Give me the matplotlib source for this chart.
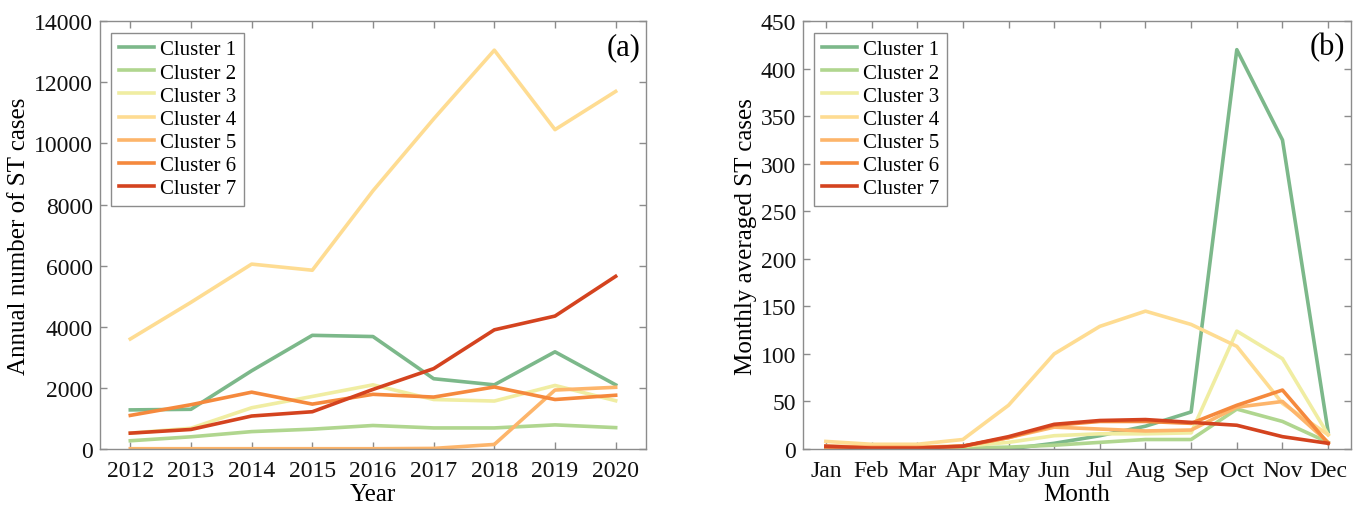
import matplotlib
matplotlib.use('Agg')
import matplotlib.pyplot as plt

plt.rcParams['font.family'] = ['Liberation Serif', 'DejaVu Serif']

years = [2012, 2013, 2014, 2015, 2016, 2017, 2018, 2019, 2020]
months = ['Jan', 'Feb', 'Mar', 'Apr', 'May', 'Jun', 'Jul', 'Aug', 'Sep', 'Oct', 'Nov', 'Dec']
labels = ['Cluster 1', 'Cluster 2', 'Cluster 3', 'Cluster 4', 'Cluster 5', 'Cluster 6', 'Cluster 7']
colors = ['#7cb88a', '#b0d68f', '#f0eda2', '#fedc92', '#fdb56b', '#f5893d', '#d4431f']

# annual number of ST cases per cluster
annual_c1 = [1280, 1300, 2560, 3720, 3680, 2300, 2100, 3180, 2100]
annual_c2 = [270, 400, 570, 650, 770, 690, 690, 790, 700]
annual_c3 = [520, 680, 1350, 1720, 2100, 1620, 1570, 2080, 1580]
annual_c4 = [3600, 4800, 6050, 5850, 8450, 10800, 13050, 10450, 11700]
annual_c5 = [10, 10, 10, 10, 10, 20, 150, 1930, 2020]
annual_c6 = [1100, 1450, 1860, 1470, 1790, 1700, 2030, 1620, 1760]
annual_c7 = [520, 640, 1080, 1220, 1950, 2630, 3900, 4350, 5650]

# monthly averaged ST cases per cluster
monthly_c1 = [1, 0.5, 0.5, 1, 0, 6, 14, 24, 39, 420, 325, 18]
monthly_c2 = [1, 0.5, 0.5, 1, 2, 4, 7, 10, 10, 42, 29, 7]
monthly_c3 = [3, 2, 2, 3, 7, 14, 16, 16, 17, 124, 95, 15]
monthly_c4 = [8, 5, 5, 10, 46, 100, 129, 145, 131, 108, 48, 15]
monthly_c5 = [3, 2, 2, 3, 12, 23, 21, 19, 20, 44, 50, 7]
monthly_c6 = [2, 1, 1, 3, 12, 25, 29, 29, 27, 46, 62, 6]
monthly_c7 = [3, 1, 1, 3, 13, 26, 30, 31, 28, 25, 13, 6]

annual = [annual_c1, annual_c2, annual_c3, annual_c4, annual_c5, annual_c6, annual_c7]
monthly = [monthly_c1, monthly_c2, monthly_c3, monthly_c4, monthly_c5, monthly_c6, monthly_c7]

fig = plt.figure(figsize=(13.62, 5.10), dpi=100)
ax1 = fig.add_axes([0.0734, 0.1176, 0.4009, 0.839])
ax2 = fig.add_axes([0.5896, 0.1176, 0.4023, 0.839])

month_x = list(range(1, 13))
for i in range(7):
    ax1.plot(years, annual[i], color=colors[i], lw=2.6, label=labels[i])
    ax2.plot(month_x, monthly[i], color=colors[i], lw=2.6, label=labels[i])


def style(ax, tag):
    for s in ax.spines.values():
        s.set_color('#8c8c8c')
        s.set_linewidth(1.0)
    ax.tick_params(direction='in', top=True, right=True, length=5, width=1.0,
                   color='#8c8c8c', labelsize=17, labelcolor='#111111')
    ax.tick_params(axis='x', pad=8)
    ax.tick_params(axis='y', pad=5)
    leg = ax.legend(loc='upper left', fontsize=15, handlelength=1.7, handletextpad=0.3,
                    labelspacing=0.17, borderpad=0.35, borderaxespad=0.55,
                    fancybox=False, framealpha=1)
    leg.get_frame().set_edgecolor('#8c8c8c')
    leg.get_frame().set_linewidth(1.0)
    ax.text(0.99, 0.94, tag, transform=ax.transAxes, ha='right', va='center', fontsize=22)


ax1.set_xlim(2011.5, 2020.5)
ax1.set_ylim(0, 14000)
ax1.set_xticks(years)
ax1.set_yticks(range(0, 14001, 2000))
ax1.set_xlabel('Year', fontsize=18, labelpad=1)
ax1.set_ylabel('Annual number of ST cases', fontsize=18, labelpad=3)
style(ax1, '(a)')

ax2.set_xlim(0.5, 12.5)
ax2.set_ylim(0, 450)
ax2.set_xticks(month_x)
ax2.set_xticklabels(months)
ax2.set_yticks(range(0, 451, 50))
ax2.set_xlabel('Month', fontsize=18, labelpad=1)
ax2.set_ylabel('Monthly averaged ST cases', fontsize=18, labelpad=3)
style(ax2, '(b)')

fig.savefig('out.png', dpi=100)
